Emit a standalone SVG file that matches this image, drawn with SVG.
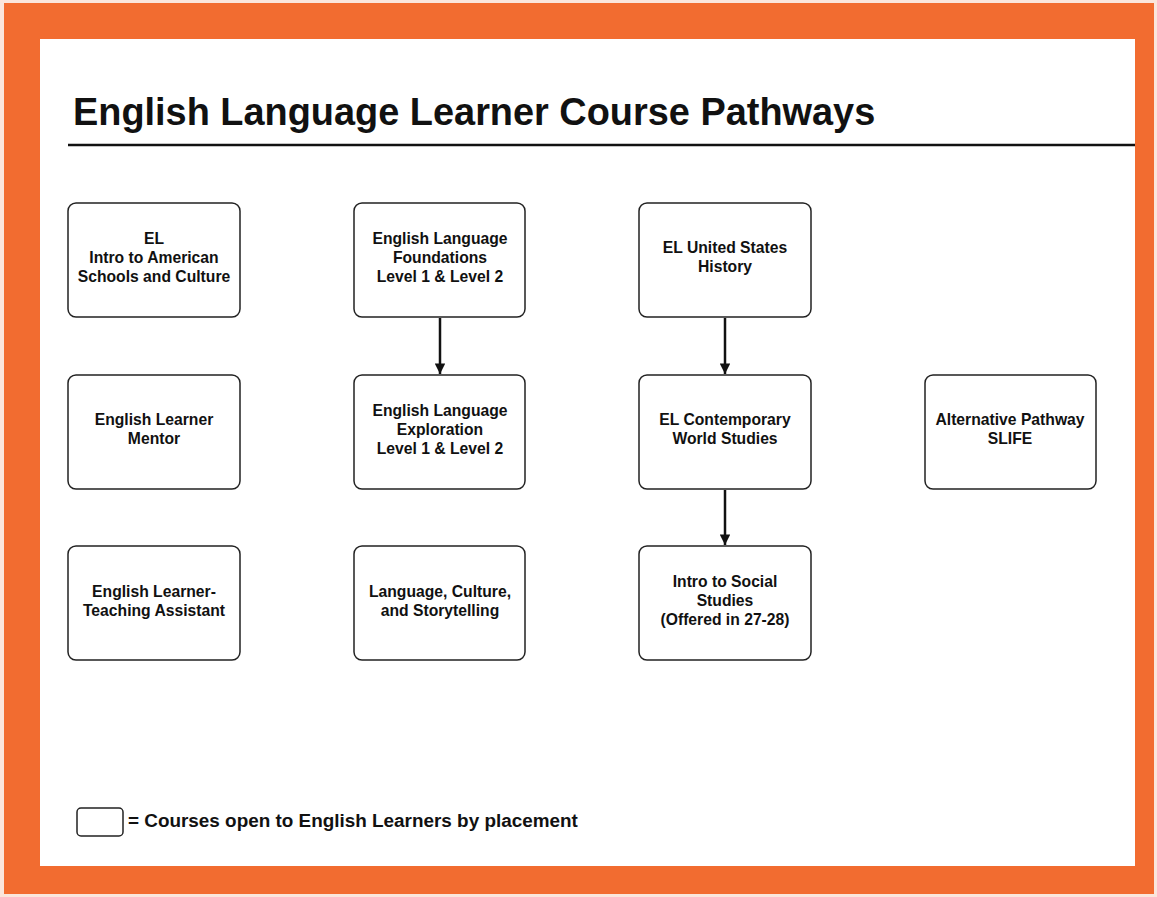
<svg xmlns="http://www.w3.org/2000/svg" width="1157" height="897" viewBox="0 0 1157 897">
  <style>
    .node rect { fill: #ffffff; stroke: #222222; stroke-width: 1.5; }
    .node text { font-family: "Liberation Sans", Arial, sans-serif; font-weight: bold; font-size: 15.7px; fill: #111111; text-anchor: middle; }
    .edge { stroke: #111111; stroke-width: 2.5; fill: none; marker-end: url(#arrow); }
    .title { font-family: "Liberation Sans", Arial, sans-serif; font-weight: bold; font-size: 37.9px; fill: #111111; }
    .legend { font-family: "Liberation Sans", Arial, sans-serif; font-weight: bold; font-size: 18.9px; fill: #111111; }
  </style>
  <defs>
    <marker id="arrow" viewBox="0 0 10 10" refX="10" refY="5" markerWidth="5.2" markerHeight="4.2" markerUnits="strokeWidth" orient="auto">
      <path d="M0,0 L10,5 L0,10 z" fill="#111111"/>
    </marker>
  </defs>

  <!-- frame -->
  <rect x="0" y="0" width="1157" height="897" fill="#fbe6dc"/>
  <rect x="4" y="3" width="1150" height="891" fill="#f26c30"/>
  <rect x="40" y="39" width="1095" height="827" fill="#ffffff"/>

  <!-- heading -->
  <text class="title" x="73" y="125">English Language Learner Course Pathways</text>
  <line x1="68" y1="145" x2="1135" y2="145" stroke="#111111" stroke-width="2.5"/>

  <!-- connectors -->
  <g id="connectors">
    <line class="edge" x1="440" y1="318" x2="440" y2="374"/>
    <line class="edge" x1="725" y1="318" x2="725" y2="374"/>
    <line class="edge" x1="725" y1="490" x2="725" y2="545"/>
  </g>

  <!-- column 1 -->
  <g id="intro-american" class="node">
    <rect x="68" y="203" width="172" height="114" rx="8"/>
    <text x="154" y="244">EL</text>
    <text x="154" y="263">Intro to American</text>
    <text x="154" y="282">Schools and Culture</text>
  </g>
  <g id="learner-mentor" class="node">
    <rect x="68" y="375" width="172" height="114" rx="8"/>
    <text x="154" y="425">English Learner</text>
    <text x="154" y="444">Mentor</text>
  </g>
  <g id="teaching-assistant" class="node">
    <rect x="68" y="546" width="172" height="114" rx="8"/>
    <text x="154" y="597">English Learner-</text>
    <text x="154" y="616">Teaching Assistant</text>
  </g>

  <!-- column 2 -->
  <g id="foundations" class="node">
    <rect x="354" y="203" width="171" height="114" rx="8"/>
    <text x="440" y="244">English Language</text>
    <text x="440" y="263">Foundations</text>
    <text x="440" y="282">Level 1 &amp; Level 2</text>
  </g>
  <g id="exploration" class="node">
    <rect x="354" y="375" width="171" height="114" rx="8"/>
    <text x="440" y="416">English Language</text>
    <text x="440" y="435">Exploration</text>
    <text x="440" y="454">Level 1 &amp; Level 2</text>
  </g>
  <g id="storytelling" class="node">
    <rect x="354" y="546" width="171" height="114" rx="8"/>
    <text x="440" y="597">Language, Culture,</text>
    <text x="440" y="616">and Storytelling</text>
  </g>

  <!-- column 3 -->
  <g id="us-history" class="node">
    <rect x="639" y="203" width="172" height="114" rx="8"/>
    <text x="725" y="253">EL United States</text>
    <text x="725" y="272">History</text>
  </g>
  <g id="world-studies" class="node">
    <rect x="639" y="375" width="172" height="114" rx="8"/>
    <text x="725" y="425">EL Contemporary</text>
    <text x="725" y="444">World Studies</text>
  </g>
  <g id="social-studies" class="node">
    <rect x="639" y="546" width="172" height="114" rx="8"/>
    <text x="725" y="587">Intro to Social</text>
    <text x="725" y="606">Studies</text>
    <text x="725" y="625">(Offered in 27-28)</text>
  </g>

  <!-- column 4 -->
  <g id="slife" class="node">
    <rect x="925" y="375" width="171" height="114" rx="8"/>
    <text x="1010" y="425">Alternative Pathway</text>
    <text x="1010" y="444">SLIFE</text>
  </g>

  <!-- key -->
  <g id="legend">
    <rect x="77" y="808" width="46" height="28" rx="4" fill="#ffffff" stroke="#222222" stroke-width="1.5"/>
    <text class="legend" x="128" y="827">= Courses open to English Learners by placement</text>
  </g>
</svg>
